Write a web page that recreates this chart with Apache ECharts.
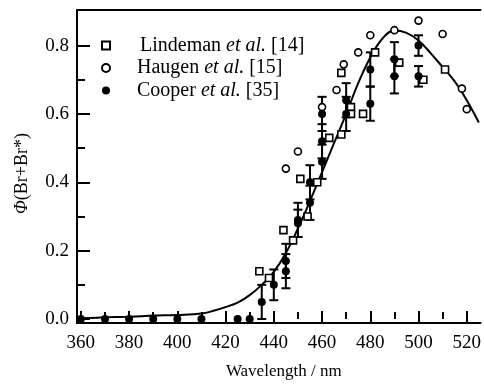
<!DOCTYPE html>
<html>
<head>
<meta charset="utf-8">
<script src="https://cdn.jsdelivr.net/npm/echarts@6/dist/echarts.min.js"></script>
<style>
  html, body { margin: 0; padding: 0; background: #fff; }
  #main { width: 484px; height: 385px; }
</style>
</head>
<body>
<div id="main"></div>
<script>
// fitted curve
var curveX = [360, 370, 380, 390, 400, 410, 415, 420, 425, 430, 435, 440, 445, 450, 455, 460, 465, 470, 475, 480, 485, 490, 495, 500, 505, 510, 515, 520, 525];
var curveY = [0.002, 0.005, 0.007, 0.010, 0.012, 0.016, 0.024, 0.035, 0.048, 0.070, 0.100, 0.138, 0.193, 0.265, 0.345, 0.430, 0.515, 0.600, 0.690, 0.765, 0.820, 0.844, 0.837, 0.815, 0.778, 0.737, 0.695, 0.640, 0.575];

// Lindeman et al. [14] (open squares)
var lindX = [434, 438, 444, 448, 451, 454, 458, 463, 468, 468, 472, 472, 477, 482, 492, 502, 511];
var lindY = [0.14, 0.12, 0.26, 0.23, 0.41, 0.30, 0.40, 0.53, 0.54, 0.72, 0.62, 0.60, 0.60, 0.78, 0.75, 0.70, 0.73];

// Haugen et al. [15] (open circles)
var haugX = [445, 450, 460, 466, 469, 475, 480, 490, 500, 510, 518, 520];
var haugY = [0.44, 0.49, 0.62, 0.67, 0.745, 0.78, 0.83, 0.845, 0.873, 0.834, 0.674, 0.614];

// Cooper et al. [35] (filled circles, with error)
var coopX = [360, 370, 380, 390, 400, 410, 425, 430, 435, 440, 445, 445, 450, 450, 455, 455, 460, 460, 460, 470, 470, 480, 480, 490, 490, 500, 500];
var coopY = [0, 0, 0, 0, 0, 0, 0, 0, 0.05, 0.10, 0.17, 0.14, 0.29, 0.28, 0.40, 0.34, 0.60, 0.52, 0.46, 0.64, 0.60, 0.73, 0.63, 0.76, 0.71, 0.80, 0.71];
var coopErr = [0, 0, 0, 0, 0, 0, 0, 0, 0.05, 0.045, 0.05, 0.05, 0.05, 0.04, 0.05, 0.05, 0.05, 0.05, 0.05, 0.05, 0.05, 0.05, 0.05, 0.05, 0.05, 0.03, 0.03];

// ticks
var xMajor = [360, 380, 400, 420, 440, 460, 480, 500, 520];
var xMinor = [370, 390, 410, 430, 450, 470, 490, 510];
var yMajor = [0, 0.2, 0.4, 0.6, 0.8];
var yMinor = [0.1, 0.3, 0.5, 0.7];

var names = ['Lindeman et al. [14]', 'Haugen et al. [15]', 'Cooper et al. [35]'];

function zip(a, b, c) {
    return a.map(function (v, i) { return c ? [v, b[i], c[i]] : [v, b[i]]; });
}

var FONT = 'Liberation Serif';
var X_MIN = 358.4, X_MAX = 525.7, Y_MIN = -0.0116, Y_MAX = 0.904;

var myChart = echarts.init(document.getElementById('main'));

function xAx(extra) {
    return Object.assign({
        type: 'value', min: X_MIN, max: X_MAX, position: 'bottom',
        splitLine: { show: false },
        axisLine: { show: false, lineStyle: { color: '#000', width: 2 } },
        axisTick: { show: false },
        axisLabel: { show: false }
    }, extra);
}
function yAx(extra) {
    return Object.assign({
        type: 'value', min: Y_MIN, max: Y_MAX, position: 'left',
        splitLine: { show: false },
        axisLine: { show: false, lineStyle: { color: '#000', width: 2 } },
        axisTick: { show: false },
        axisLabel: { show: false }
    }, extra);
}

var option = {
    animation: false,
    backgroundColor: '#fff',
    grid: { left: 77, right: 0, top: 10, bottom: 59 },
    legend: {
        orient: 'vertical',
        left: 96, top: 30,
        itemWidth: 8, itemHeight: 8, itemGap: 1.5,
        data: names,
        formatter: function (n) {
            var p = n.split(' et al.');
            var g = n.indexOf('Lindeman') === 0 ? 'g2' : 'g';
            return '{' + g + '|}{n|' + p[0] + ' }{i|et al.}{n|' + p[1] + '}';
        },
        textStyle: {
            color: '#000', fontFamily: FONT, fontSize: 20, lineHeight: 21,
            rich: {
                g: { width: 22 },
                g2: { width: 25 },
                n: { fontFamily: FONT, fontSize: 20, color: '#000' },
                i: { fontFamily: FONT, fontSize: 20, fontStyle: 'italic', color: '#000' }
            }
        }
    },
    xAxis: [
        // main axis: line, major ticks, labels, name
        xAx({
            axisLine: { show: true, onZero: false, lineStyle: { color: '#000', width: 2 } },
            axisTick: { show: true, inside: true, length: 12, customValues: xMajor, lineStyle: { color: '#000', width: 2 } },
            axisLabel: { show: true, customValues: xMajor, margin: 11, color: '#000', fontFamily: FONT, fontSize: 19 },
            name: 'Wavelength / nm', nameLocation: 'middle', nameGap: 40,
            nameTextStyle: { color: '#000', fontFamily: FONT, fontSize: 17, padding: [0, 0, 0, 10] }
        }),
        // minor ticks
        xAx({
            axisTick: { show: true, inside: true, length: 7, customValues: xMinor, lineStyle: { color: '#000', width: 2 } }
        }),
        // top frame line
        xAx({
            position: 'top',
            axisLine: { show: true, onZero: false, lineStyle: { color: '#000', width: 2 } }
        })
    ],
    yAxis: [
        yAx({
            axisLine: { show: true, onZero: false, lineStyle: { color: '#000', width: 2 } },
            axisTick: { show: true, inside: true, length: 13, customValues: yMajor, lineStyle: { color: '#000', width: 2 } },
            axisLabel: {
                show: true, customValues: yMajor, margin: 8, color: '#000', fontFamily: FONT, fontSize: 19,
                formatter: function (v) { return v.toFixed(1); }
            },
            name: '{i|Φ}(Br+Br*)', nameLocation: 'middle', nameGap: 46,
            nameTextStyle: {
                color: '#000', fontFamily: FONT, fontSize: 18, padding: [0, 14, 0, 0],
                rich: { i: { fontFamily: FONT, fontSize: 18, fontStyle: 'italic', color: '#000' } }
            }
        }),
        yAx({
            axisTick: { show: true, inside: true, length: 8, customValues: yMinor, lineStyle: { color: '#000', width: 2 } }
        })
    ],
    series: [
        {
            name: 'fit', type: 'line', smooth: 0.4, showSymbol: false, silent: true,
            data: zip(curveX, curveY),
            lineStyle: { color: '#000', width: 2 }, z: 2
        },
        {
            name: 'err', type: 'custom', silent: true, z: 3,
            data: zip(coopX, coopY, coopErr),
            renderItem: function (params, api) {
                var x = api.value(0), y = api.value(1), e = api.value(2);
                if (!e) return;
                var top = api.coord([x, y + e]);
                var bot = api.coord([x, y - e]);
                var w = 4.5;
                var st = { stroke: '#000', lineWidth: 2 };
                return {
                    type: 'group',
                    children: [
                        { type: 'line', shape: { x1: top[0], y1: top[1], x2: bot[0], y2: bot[1] }, style: st },
                        { type: 'line', shape: { x1: top[0] - w, y1: top[1], x2: top[0] + w, y2: top[1] }, style: st },
                        { type: 'line', shape: { x1: bot[0] - w, y1: bot[1], x2: bot[0] + w, y2: bot[1] }, style: st }
                    ]
                };
            }
        },
        {
            name: names[0], type: 'scatter', symbol: 'rect', symbolSize: 7, z: 4,
            data: zip(lindX, lindY),
            itemStyle: { color: '#fff', borderColor: '#000', borderWidth: 1.6, opacity: 1 }
        },
        {
            name: names[1], type: 'scatter', symbol: 'circle', symbolSize: 7, z: 4,
            data: zip(haugX, haugY),
            itemStyle: { color: '#fff', borderColor: '#000', borderWidth: 1.6, opacity: 1 }
        },
        {
            name: names[2], type: 'scatter', symbol: 'circle', symbolSize: 8, z: 5,
            data: zip(coopX, coopY),
            itemStyle: { color: '#000', opacity: 1 }
        }
    ]
};
myChart.setOption(option);
</script>
</body>
</html>
